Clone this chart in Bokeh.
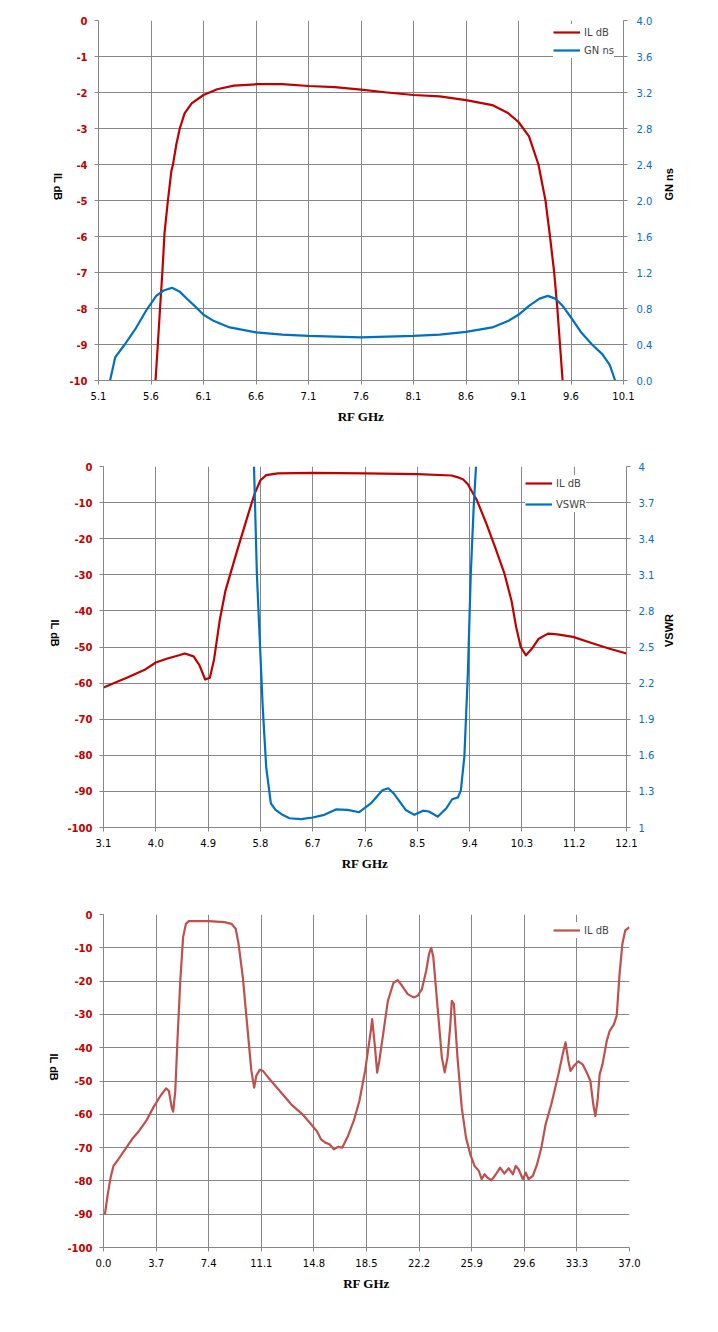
import math
from bokeh.plotting import figure
from bokeh.models import Range1d, LinearAxis, FixedTicker, NumeralTickFormatter
from bokeh.layouts import column, row
from bokeh.embed import file_html
from bokeh.resources import INLINE

# ---- chart 1: passband IL + group delay ----
il1_freq = [5.643, 5.665, 5.686, 5.708, 5.729, 5.761, 5.794, 5.81, 5.842, 5.874, 5.92, 5.987,
            6.1, 6.23, 6.39, 6.61, 6.85, 7.1, 7.35, 7.6, 7.85, 8.1, 8.35, 8.6, 8.85,
            9.0, 9.1, 9.2, 9.29, 9.357, 9.40, 9.44, 9.47, 9.495, 9.52]
il1_db = [-10, -9, -8, -7, -5.9, -5.0, -4.18, -3.99, -3.43, -3.0, -2.58, -2.3,
          -2.07, -1.91, -1.81, -1.77, -1.77, -1.82, -1.85, -1.92, -2.0, -2.07, -2.11, -2.21, -2.35,
          -2.57, -2.82, -3.22, -4.0, -5.0, -6.0, -7.0, -8.0, -9.0, -10.0]

gn_freq = [5.21, 5.26, 5.35, 5.45, 5.55, 5.65, 5.72, 5.8, 5.87, 5.95, 6.05, 6.1, 6.2,
           6.35, 6.6, 6.85, 7.1, 7.6, 8.1, 8.35, 8.6, 8.85, 9.0, 9.1, 9.2, 9.3, 9.38,
           9.45, 9.52, 9.6, 9.7, 9.8, 9.9, 9.97, 10.02]
gn_ns = [0.0, 0.26, 0.4, 0.57, 0.77, 0.94, 1.0, 1.03, 0.99, 0.9, 0.79, 0.73, 0.66,
         0.59, 0.535, 0.51, 0.495, 0.48, 0.495, 0.51, 0.54, 0.59, 0.66, 0.73, 0.83, 0.91, 0.94,
         0.91, 0.83, 0.7, 0.53, 0.4, 0.29, 0.17, 0.0]

x1_ticks = [5.1, 5.6, 6.1, 6.6, 7.1, 7.6, 8.1, 8.6, 9.1, 9.6, 10.1]
y1_ticks = [0, -1, -2, -3, -4, -5, -6, -7, -8, -9, -10]
gn_ticks = [0.0, 0.4, 0.8, 1.2, 1.6, 2.0, 2.4, 2.8, 3.2, 3.6, 4.0]

# ---- chart 2: wide IL + VSWR ----
il2_freq = [3.1, 3.5, 3.8, 4.0, 4.2, 4.4, 4.5, 4.65, 4.75, 4.85, 4.93, 5.0, 5.1, 5.2,
            5.4, 5.6, 5.7, 5.8, 5.9, 6.1, 6.7, 7.6, 8.5, 9.09, 9.2, 9.29, 9.37, 9.53,
            9.69, 9.84, 10.0, 10.12, 10.2, 10.28, 10.37, 10.47, 10.59, 10.75, 10.91,
            11.18, 11.5, 11.81, 12.1]
il2_db = [-61.2, -58.5, -56.4, -54.3, -53.2, -52.3, -51.8, -52.6, -55.0, -59.0, -58.5, -53.7, -42.6, -34.3,
          -23.3, -12.7, -7.6, -3.8, -2.4, -1.9, -1.75, -1.9, -2.1, -2.5, -3.0, -3.6, -4.9, -9.5,
          -15.9, -22.4, -29.7, -37.1, -44.4, -50.0, -52.3, -50.5, -47.7, -46.3, -46.5,
          -47.2, -48.9, -50.5, -51.8]

vswr_freq = [5.69, 5.74, 5.84, 5.90, 5.98, 6.06, 6.18, 6.3, 6.5, 6.7, 6.9, 7.1, 7.3, 7.5,
             7.7, 7.9, 8.0, 8.1, 8.3, 8.45, 8.6, 8.7, 8.85, 9.0, 9.1, 9.2, 9.25, 9.31,
             9.37, 9.42, 9.47, 9.51]
vswr = [4.0, 3.1, 2.0, 1.5, 1.2, 1.146, 1.105, 1.077, 1.07, 1.083, 1.105, 1.15, 1.146, 1.127,
        1.2, 1.31, 1.326, 1.28, 1.146, 1.105, 1.14, 1.133, 1.09, 1.16, 1.235, 1.25, 1.31, 1.59,
        2.28, 3.1, 3.66, 4.0]

x2_ticks = [3.1, 4.0, 4.9, 5.8, 6.7, 7.6, 8.5, 9.4, 10.3, 11.2, 12.1]
y2_ticks = [0, -10, -20, -30, -40, -50, -60, -70, -80, -90, -100]
vswr_ticks = [1, 1.3, 1.6, 1.9, 2.2, 2.5, 2.8, 3.1, 3.4, 3.7, 4]

# ---- chart 3: spurious response to 37 GHz ----
il3_freq = [0.1, 0.3, 0.5, 0.7, 1.0, 1.4, 2.0, 2.5, 3.0, 3.5, 4.0, 4.4, 4.6, 4.8, 4.9,
            5.05, 5.2, 5.4, 5.6, 5.8, 6.0, 7.4, 8.5, 9.0, 9.3, 9.5, 9.8, 10.1, 10.4, 10.6,
            10.75, 11.0, 11.2, 11.6, 12.4, 13.2, 14.0, 14.6, 15.0, 15.3, 15.6, 15.9, 16.2,
            16.5, 16.8, 17.2, 17.6, 18.0, 18.4, 18.6, 18.8, 18.9, 19.1, 19.25, 19.4, 19.7,
            20.0, 20.4, 20.7, 21.0, 21.4, 21.8, 22.1, 22.4, 22.7, 22.9, 23.05, 23.2, 23.5,
            23.8, 24.0, 24.2, 24.4, 24.5, 24.65, 24.9, 25.2, 25.5, 25.8, 26.1, 26.4, 26.6,
            26.8, 27.0, 27.3, 27.6, 27.9, 28.2, 28.5, 28.8, 29.0, 29.2, 29.5, 29.7, 29.9,
            30.2, 30.5, 30.8, 31.1, 31.5, 32.0, 32.3, 32.5, 32.7, 32.85, 33.1, 33.4, 33.7,
            34.0, 34.25, 34.45, 34.6, 34.75, 34.9, 35.1, 35.4, 35.6, 35.9, 36.1, 36.3, 36.5,
            36.7, 37.0]
il3_db = [-90, -84, -79, -75.5, -73.8, -71.3, -67.5, -65, -62, -58, -54.5, -52.2, -53, -58, -59.2,
          -53, -38, -20, -6.8, -2.8, -2.0, -2.0, -2.3, -2.8, -4.3, -8.8, -18.9, -32.9, -46.9, -52,
          -48.4, -46.6, -46.9, -49, -53, -57, -60, -63, -65, -67.5, -68.5, -69, -70.5,
          -69.8, -70, -66.5, -62, -56, -47, -41, -35, -31.4, -40, -47.5, -44, -35,
          -26, -20.5, -19.7, -21.4, -23.9, -24.9, -24.4, -22.4, -16.9, -11.8, -10, -12.8, -27.9,
          -42.9, -47.4, -42.9, -32.9, -25.9, -26.9, -42.9, -58, -67, -72, -75.5, -77, -79.5,
          -78, -79, -79.8, -78, -76, -77.8, -76.2, -78, -75.5, -76.5, -79.5, -77.5, -79.5,
          -78.5, -75, -70, -63, -57, -48, -42, -38.4, -44, -47, -45.4, -44.1, -45,
          -47.5, -50, -57, -60.5, -56, -48, -45, -38, -35, -33, -30.4, -17.9, -8.8,
          -4.8, -3.8]

x3_ticks = [0.0, 3.7, 7.4, 11.1, 14.8, 18.5, 22.2, 25.9, 29.6, 33.3, 37.0]
y3_ticks = [0, -10, -20, -30, -40, -50, -60, -70, -80, -90, -100]

GRID = "#868686"
RED = "#C00000"
BLUE = "#0070C0"
RED3 = "#C0504D"
W = 700


def base_figure(height, x_range, y_range, borders):
    left, right, top, bottom = borders
    p = figure(width=W, height=height, x_range=x_range, y_range=y_range,
               output_backend="svg", toolbar_location=None,
               min_border_left=left, min_border_right=right,
               min_border_top=top, min_border_bottom=bottom)
    p.outline_line_color = None
    p.grid.grid_line_color = GRID
    p.grid.grid_line_alpha = 1.0
    return p


def style_axis(ax, ticks, fmt, color, bold=False):
    ax.ticker = FixedTicker(ticks=ticks)
    ax.formatter = NumeralTickFormatter(format=fmt)
    ax.axis_line_color = GRID
    ax.major_tick_line_color = GRID
    ax.minor_tick_line_color = None
    ax.major_tick_out = 4
    ax.major_tick_in = 0
    ax.major_label_text_font = "DejaVu Sans"
    ax.major_label_text_font_size = "10px"
    ax.major_label_text_color = color
    ax.major_label_text_font_style = "bold" if bold else "normal"


def x_title(ax):
    ax.axis_label = "RF GHz"
    ax.axis_label_text_font = "Liberation Serif"
    ax.axis_label_text_font_size = "13px"
    ax.axis_label_text_font_style = "bold"
    ax.axis_label_text_color = "black"
    ax.major_label_standoff = 7
    ax.axis_label_standoff = 6


def y_title(ax, text, orientation, standoff):
    # left title reads downwards, right title upwards (as in the original sheet)
    ax.axis_label = text
    ax.axis_label_text_font = "Liberation Sans"
    ax.axis_label_text_font_size = "11px"
    ax.axis_label_text_font_style = "bold"
    ax.axis_label_text_color = "black"
    ax.axis_label_standoff = standoff
    ax.axis_label_orientation = orientation


def style_legend(p, loc, spacing):
    lg = p.legend[0]
    lg.location = loc
    lg.border_line_color = None
    lg.background_fill_color = "white"
    lg.background_fill_alpha = 1.0
    lg.label_text_font = "DejaVu Sans"
    lg.label_text_font_size = "10px"
    lg.glyph_width = 27
    lg.glyph_height = 16
    lg.label_height = 16
    lg.label_standoff = 4
    lg.spacing = spacing
    lg.padding = 4
    lg.margin = 0


# chart 1
p1 = base_figure(448, Range1d(5.1, 10.1), Range1d(-10, 0), (98, 77, 20, 68))
p1.extra_y_ranges = {"gn": Range1d(0, 4)}
style_axis(p1.xaxis[0], x1_ticks, "0.0", "black")
x_title(p1.xaxis[0])
style_axis(p1.yaxis[0], y1_ticks, "0", RED, bold=True)
p1.yaxis[0].major_label_standoff = 7
y_title(p1.yaxis[0], "IL dB", -math.pi / 2, 8)
gn_axis = LinearAxis(y_range_name="gn")
style_axis(gn_axis, gn_ticks, "0.0", BLUE)
gn_axis.major_label_standoff = 9
y_title(gn_axis, "GN ns", math.pi / 2, 14)
p1.add_layout(gn_axis, "right")
p1.line(il1_freq, il1_db, color=RED, line_width=2.2, line_join="round", legend_label="IL dB")
p1.line(gn_freq, gn_ns, color=BLUE, line_width=2.2, line_join="round", y_range_name="gn",
        legend_label="GN ns")
style_legend(p1, (455, 322), 2)

# chart 2
p2 = base_figure(442, Range1d(3.1, 12.1), Range1d(-100, 0), (103, 74, 18, 63))
p2.extra_y_ranges = {"vswr": Range1d(1, 4)}
style_axis(p2.xaxis[0], x2_ticks, "0.0", "black")
x_title(p2.xaxis[0])
style_axis(p2.yaxis[0], y2_ticks, "0", RED, bold=True)
p2.yaxis[0].major_label_standoff = 7
y_title(p2.yaxis[0], "IL dB", -math.pi / 2, 9)
vswr_axis = LinearAxis(y_range_name="vswr")
style_axis(vswr_axis, vswr_ticks, "0.[0]", BLUE)
vswr_axis.major_label_standoff = 8
y_title(vswr_axis, "VSWR", math.pi / 2, 12)
p2.add_layout(vswr_axis, "right")
p2.line(il2_freq, il2_db, color=RED, line_width=2.2, line_join="round", legend_label="IL dB")
p2.line(vswr_freq, vswr, color=BLUE, line_width=2.2, line_join="round", y_range_name="vswr",
        legend_label="VSWR")
style_legend(p2, (422, 315), 5)

# chart 3
p3 = base_figure(430, Range1d(0, 37), Range1d(-100, 0), (103, 71, 24, 73))
style_axis(p3.xaxis[0], x3_ticks, "0.0", "black")
x_title(p3.xaxis[0])
style_axis(p3.yaxis[0], y3_ticks, "0", RED, bold=True)
p3.yaxis[0].major_label_standoff = 7
y_title(p3.yaxis[0], "IL dB", -math.pi / 2, 10)
p3.line(il3_freq, il3_db, color=RED3, line_width=2.2, line_join="round", legend_label="IL dB")
style_legend(p3, (450, 309), 2)

# separate rows so each chart keeps its own frame borders
layout = column(row(p1), row(p2), row(p3))
open("out.html", "w").write(file_html(layout, INLINE))
